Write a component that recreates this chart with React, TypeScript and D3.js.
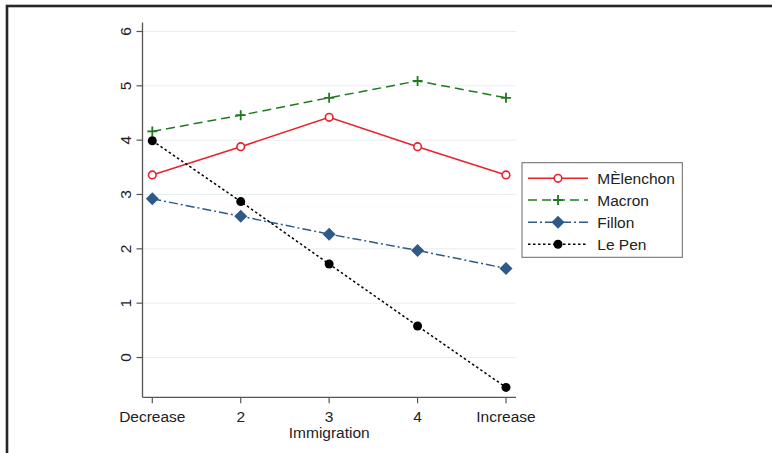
import React from "react";
import * as d3 from "d3";

const categories = ["Decrease", "2", "3", "4", "Increase"];
const xValues = [1, 2, 3, 4, 5];
const yTicks = [0, 1, 2, 3, 4, 5, 6];
const seriesNames = ["MÈlenchon", "Macron", "Fillon", "Le Pen"];
const melenchon = [3.36, 3.88, 4.42, 3.88, 3.36];
const macron = [4.16, 4.46, 4.78, 5.09, 4.78];
const fillon = [2.92, 2.6, 2.27, 1.97, 1.64];
const lepen = [3.99, 2.87, 1.72, 0.58, -0.55];
const xTitle = "Immigration";

const FONT = "'Liberation Sans', Arial, Helvetica, sans-serif";

const styles = [
  { color: "#e8212b", dash: "none", marker: "ocircle" },
  { color: "#1f7a1f", dash: "9,5", marker: "plus" },
  { color: "#2d5a86", dash: "9,3,2,3", marker: "diamond" },
  { color: "#000000", dash: "2.5,2.5", marker: "dot" },
];

function Marker({ type, x, y, color }: { type: string; x: number; y: number; color: string }) {
  if (type === "ocircle")
    return <circle cx={x} cy={y} r={3.8} fill="white" stroke={color} strokeWidth={1.6} />;
  if (type === "plus")
    return (
      <path d={`M${x - 5},${y}H${x + 5}M${x},${y - 5}V${y + 5}`} stroke={color} strokeWidth={1.8} fill="none" />
    );
  if (type === "diamond")
    return <path d={`M${x},${y - 6.5}L${x + 6.5},${y}L${x},${y + 6.5}L${x - 6.5},${y}Z`} fill={color} />;
  return <circle cx={x} cy={y} r={4.5} fill={color} />;
}

export default function App() {
  const data = [melenchon, macron, fillon, lepen];
  const x = d3.scaleLinear().domain([1, 5]).range([152.3, 506]);
  const y = d3.scaleLinear().domain([0, 6]).range([357.5, 31.5]);
  const plotLeft = 142.5;
  const plotRight = 516;
  const plotBottom = 397.3;
  const plotTop = 22.5;
  const line = d3
    .line<number>()
    .x((_, i) => x(xValues[i]))
    .y((d) => y(d));

  const legX = 522;
  const legY = 162.7;
  const legW = 160.3;
  const legH = 94.6;
  const rowY = [178.3, 200, 222.3, 244.3];

  return (
    <svg
      width={772}
      height={453}
      style={{ position: "absolute", left: 0, top: 0, background: "white" }}
      fontFamily={FONT}
    >
      <rect x={0} y={0} width={772} height={453} fill="white" />
      {/* outer frame */}
      <rect x={7} y={6} width={800} height={500} fill="none" stroke="#262626" strokeWidth={2.6} />

      {/* gridlines */}
      {yTicks.map((t) => (
        <line key={"g" + t} x1={plotLeft} x2={plotRight} y1={y(t)} y2={y(t)} stroke="#e6eef0" strokeWidth={1} />
      ))}

      {/* axes */}
      <line x1={plotLeft} x2={plotLeft} y1={plotTop} y2={plotBottom} stroke="#555" strokeWidth={1.3} />
      <line x1={plotLeft} x2={plotRight} y1={plotBottom} y2={plotBottom} stroke="#555" strokeWidth={1.3} />

      {yTicks.map((t) => (
        <g key={"yt" + t}>
          <line x1={plotLeft - 6} x2={plotLeft} y1={y(t)} y2={y(t)} stroke="#555" strokeWidth={1.2} />
          <text
            transform={`translate(${125},${y(t)}) rotate(-90)`}
            textAnchor="middle"
            dominantBaseline="central"
            fontSize={15.5}
            fill="#222"
          >
            {t}
          </text>
        </g>
      ))}

      {categories.map((c, i) => (
        <g key={"xt" + c}>
          <line x1={x(xValues[i])} x2={x(xValues[i])} y1={plotBottom} y2={plotBottom + 6} stroke="#555" strokeWidth={1.2} />
          <text x={x(xValues[i])} y={416.7} textAnchor="middle" dominantBaseline="central" fontSize={15.5} fill="#222">
            {c}
          </text>
        </g>
      ))}
      <text x={(plotLeft + plotRight) / 2} y={432.7} textAnchor="middle" dominantBaseline="central" fontSize={15.5} fill="#222">
        {xTitle}
      </text>

      {/* series */}
      {data.map((vals, si) => (
        <g key={"s" + si}>
          <path d={line(vals) || ""} fill="none" stroke={styles[si].color} strokeWidth={1.5} strokeDasharray={styles[si].dash} />
          {vals.map((v, i) => (
            <Marker key={i} type={styles[si].marker} x={x(xValues[i])} y={y(v)} color={styles[si].color} />
          ))}
        </g>
      ))}

      {/* legend */}
      <rect x={legX} y={legY} width={legW} height={legH} fill="white" stroke="#666" strokeWidth={1} />
      {seriesNames.map((n, i) => (
        <g key={"l" + n}>
          <line x1={528} x2={588} y1={rowY[i]} y2={rowY[i]} stroke={styles[i].color} strokeWidth={1.5} strokeDasharray={styles[i].dash} />
          <Marker type={styles[i].marker} x={558} y={rowY[i]} color={styles[i].color} />
          <text x={597.3} y={rowY[i]} dominantBaseline="central" fontSize={15.5} fill="#222">
            {n}
          </text>
        </g>
      ))}
    </svg>
  );
}
